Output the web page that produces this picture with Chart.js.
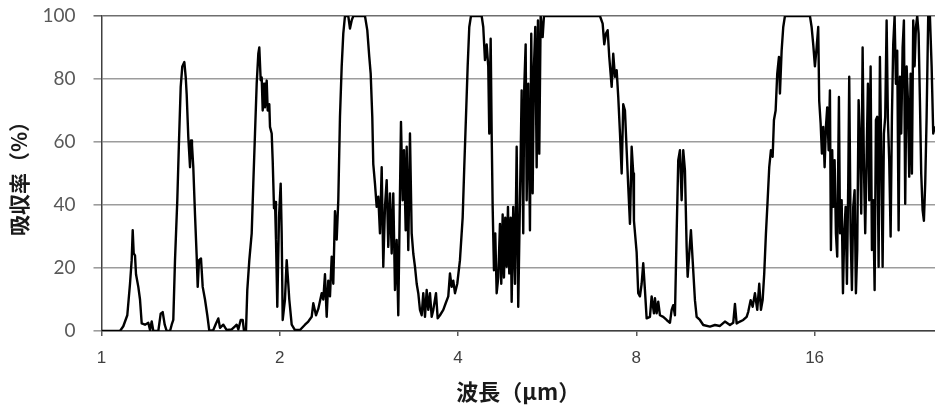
<!DOCTYPE html>
<html>
<head>
<meta charset="utf-8">
<script src="https://cdn.jsdelivr.net/npm/chart.js@4.4.1/dist/chart.umd.min.js"></script>
<style>
body{margin:0;background:#fff;}
#wrap{width:935px;height:410px;}
</style>
</head>
<body>
<div id="wrap"><canvas id="spectrum"></canvas></div>
<script>
// wavelength in um
const wavelength = [
  1.002,1.0746,1.0885,1.1055,1.1172,1.1245,1.1290,1.1334,1.1391,1.1436,1.1539,1.1615,1.1692,1.1843,1.1996,1.2076,1.2155,1.2232,1.2472,1.2588,1.2687,1.2786,1.2885,1.3052,1.3138,1.3220,1.3308,1.3427,1.3517,1.3606,1.3691,1.3800,1.3873,1.3927,1.4014,1.4108,1.4162,1.4217,1.4289,1.4384,1.4479,1.4536,1.4610,1.4723,1.4821,1.4954,1.5089,1.5207,1.5445,1.5608,1.5748,1.5853,1.6057,1.6270,1.6590,1.6804,1.6915,1.7022,1.7181,1.7315,1.7403,1.7538,1.7627,1.7766,1.7931,1.8044,1.8163,1.8283,1.8398,1.8470,1.8570,1.8642,1.8715,1.8810,1.8883,1.9008,1.9082,1.9202,1.9254,1.9381,1.9457,1.9556,1.9632,1.9708,1.9808,1.9938,
  2.007,2.0148,2.0228,2.0408,2.0544,2.0673,2.0753,2.0948,2.1218,2.1634,2.2059,2.2344,2.2642,2.2783,2.3023,2.3230,2.3539,2.3686,2.3842,2.4001,2.4151,2.4310,2.4473,2.4625,2.4788,2.4953,2.5109,2.5274,2.5443,2.5601,2.5770,2.6104,2.6276,2.6451,2.6616,2.7854,2.8105,2.8324,2.8479,2.8657,2.8768,2.8958,2.9151,2.9333,2.9527,2.9724,2.9909,3.0106,3.0307,3.0496,3.0697,3.0902,3.1095,3.1300,3.1508,3.1705,3.1914,3.2039,3.2252,3.2415,3.2630,3.2758,3.2962,3.3179,3.3401,3.3609,3.3831,3.4056,3.4269,3.4495,3.4725,3.4941,3.5172,3.5406,3.5627,3.5862,3.6101,3.6327,3.6710,3.6954,3.7284,3.7767,3.8120,3.8508,3.8762,3.9021,3.9264,3.9523,3.9877,
  4.0296,4.0722,4.0977,4.1250,4.1522,4.1782,4.2059,4.3845,4.4118,4.4412,4.4706,4.4983,4.5160,4.5407,4.5584,4.5760,4.5993,4.6226,4.6478,4.6767,4.7078,4.7317,4.7574,4.7816,4.8059,4.8321,4.8564,4.8812,4.9079,4.9269,4.9575,4.9906,5.0237,5.0548,5.0885,5.1222,5.1540,5.1742,5.2025,5.2228,5.2552,5.2902,5.3170,5.3458,5.3731,5.4004,5.4298,5.4571,5.4850,5.5150,5.5578,5.5860,6.9449,7.0180,7.0620,7.1089,7.1558,7.2006,7.2682,7.3132,7.3620,7.4108,7.4568,7.5072,7.5562,7.6032,7.6539,7.7046,7.7524,7.8042,7.8558,7.9046,7.9261,
  8.0093,8.0593,8.1130,8.1666,8.2178,8.2722,8.3269,8.4346,8.4904,8.5669,8.6002,8.6570,8.7113,8.7690,8.8823,9.0002,9.1168,9.1770,9.2345,9.2957,9.3570,9.4157,9.4780,9.5406,9.6006,9.6642,9.7280,9.7661,9.8272,9.8920,9.9578,10.047,10.114,10.244,10.377,10.651,10.860,11.073,11.290,11.512,11.660,11.738,11.815,11.968,12.123,12.284,12.361,12.476,12.574,12.687,12.801,12.901,12.986,13.072,13.154,13.241,13.329,13.412,13.501,13.591,13.660,13.750,13.836,13.928,13.982,14.074,14.163,14.256,15.712,15.815,15.914,
  16.019,16.125,16.226,16.289,16.378,16.461,16.544,16.634,16.719,16.804,16.896,16.981,17.047,17.134,17.200,17.294,17.382,17.470,17.586,17.661,17.774,17.864,17.952,18.050,18.142,18.234,18.304,18.404,18.498,18.591,18.692,18.787,18.883,18.985,19.081,19.179,19.283,19.381,19.479,19.586,19.685,19.784,19.892,19.993,20.095,20.204,20.307,20.410,20.521,20.624,20.729,20.842,20.948,21.054,21.169,21.276,21.383,21.501,21.610,21.719,21.837,21.948,22.060,22.180,22.292,22.405,22.528,22.641,22.756,22.881,22.997,23.113,23.239,23.357,23.476,23.603,23.723,23.844,23.973,24.094,24.217,24.349,24.472,24.596,24.731,24.885,25.050,25.217,25.374,25.541
];
// absorption in %
const absorption = [
  0,0,1.5,5,15,22.5,32,24.6,24,18,14,10,2.4,2,2.6,0.3,3,0,0,5.5,6,2,0,0,2,3.5,22.5,41.5,60.5,77.5,84,85.4,80.7,75,61.6,52,60.5,59,52,37,23.6,14,22.5,23,14,10,5,0,0.3,2.4,4,1,2,0.3,0.5,1.5,2,0.5,3.5,3.5,0,0,13,22.5,31,46.8,62.7,78.5,88,90,79.6,80.5,70,78.5,71,79.5,70,72,64.8,62.7,54,39,41,29,7.7,36,
  46.8,31,3.5,10,22.5,15,10,2,0.3,0.3,2,3,4.5,8.8,5,7,12,10,18,4.5,16,11,23.6,15,38,29,41.5,68,84,94.4,100,100,96,98.6,100,100,95.5,87,81.7,68,53,46.8,39.4,42.6,31,52,20.4,39.4,47.9,26.7,43.7,24.6,43.7,13,28.9,5,43.7,66.4,41.5,57.4,32,58.5,25.7,62.7,31,24.6,20.4,15,12,6.7,5,12,4.5,13,6.7,12,4.5,6.7,12,4,5,6.7,8.8,11,18.3,14,16,12,15,
  22.5,36,52,68,84,96.5,100,100,96.5,86,91,84,62.7,92.8,62.7,39.4,19.3,31,12,17,34,15,37,17,36,20.4,39.4,18.3,36,9.3,39.4,15,58.5,7.7,41.5,76.4,31,77.5,91,41.5,78.5,32,94.4,43.7,84,96.5,52,98.6,56.3,100,93.3,100,100,97.6,91,94.4,95.5,87,77.5,88,80.7,82.8,74.3,62.7,50,72,70,57.4,45.8,34,58.5,50,35,
  25,12,11,15,21.5,13,4,4.5,11,5.6,10.4,5.6,9.3,5,4.5,3.5,2.6,6.7,8.2,5,31,54.2,57.4,41.5,57.4,51,26.7,17.2,24.6,32,22.5,9.8,4.5,3.5,1.9,1.4,1.9,1.6,3,1.9,2.6,8.6,2.4,3,3.5,4.5,6.1,9.8,7.7,12,6.7,15,6.7,9.8,18.3,31,41.5,52,57.4,55.3,67,70,81.7,87,75.4,89,96.5,100,100,96.5,91,
  84,90,96.5,73,66,56.3,64.8,52,64.8,71,57.4,76.4,25.7,57.4,39.4,54.2,31,23.6,74.3,31,41.5,12,31,39.4,15,46.8,80.7,31,13,39.4,44.7,12,25.7,73.3,60.6,37.3,90,52,31,55.3,78.5,41.5,84,25.7,41.5,13,67,68,20.4,87,57.4,20.4,62.7,68,98.6,67,54.2,30,68,91,100,78.5,89,32,80.7,62.7,90,98.6,40.4,84,73.3,49,81.7,50,98.6,84,96.5,100,94.4,73.3,50,38.4,35,46.8,68,100,100,84,62.7,65
];
const xTicks = [1,2,4,8,16];
const yTicks = [0,20,40,60,80,100];

const points = wavelength.map((w, i) => ({x: w, y: absorption[i]}));

const ctx = document.getElementById('spectrum').getContext('2d');
const spectrumChart = new Chart(ctx, {
    type: 'line',
    data: {
        datasets: [{
            label: '吸収率',
            data: points,
            borderColor: '#000000',
            borderWidth: 2.4,
            borderJoinStyle: 'round',
            pointRadius: 0,
            tension: 0,
            fill: false
        }]
    },
    options: {
        responsive: true,
        maintainAspectRatio: false,
        animation: false,
        layout: {padding: {top: 16, right: 0, bottom: 0, left: 0}},
        plugins: {legend: {display: false}, tooltip: {enabled: false}},
        scales: {
            x: {
                type: 'logarithmic',
                min: 1,
                max: 25.55,
                afterBuildTicks: s => { s.ticks = xTicks.map(v => ({value: v})); },
                afterFit: s => { s.height = 79; s.paddingLeft = 0; s.paddingRight = 0; },
                ticks: {
                    callback: v => String(v),
                    autoSkip: false,
                    maxRotation: 0,
                    color: '#404040',
                    padding: 12,
                    font: {family: 'Liberation Sans', size: 17}
                },
                grid: {drawOnChartArea: false, drawTicks: true, tickLength: 5, color: '#595959', lineWidth: 1.5},
                border: {display: true, color: '#404040', width: 1.5},
                title: {
                    display: true,
                    text: '波長（μm）',
                    color: '#1a1a1a',
                    font: {family: 'Noto Sans CJK JP', size: 22, weight: 'bold'},
                    padding: {top: 0, bottom: 5}
                }
            },
            y: {
                min: 0,
                max: 100,
                afterBuildTicks: s => { s.ticks = yTicks.map(v => ({value: v})); },
                // keep the plot top at the layout padding, not at label half-height + padding
                afterFit: s => { s.width = 101.5; s.paddingTop = 0; s.paddingBottom = 0; },
                ticks: {color: '#595959', padding: 18, font: {family: 'Lato', size: 19}},
                grid: {
                    color: c => (c.tick && c.tick.value === 100) ? '#6e6e6e' : '#9c9c9c',
                    lineWidth: 1.6,
                    tickLength: 8
                },
                border: {display: true, color: '#404040', width: 1.5},
                title: {
                    display: true,
                    text: '吸収率（%）',
                    color: '#1a1a1a',
                    font: {family: 'Noto Sans CJK JP', size: 21, weight: 'bold'},
                    padding: {top: 6, bottom: 0}
                }
            }
        }
    }
});
</script>
</body>
</html>
